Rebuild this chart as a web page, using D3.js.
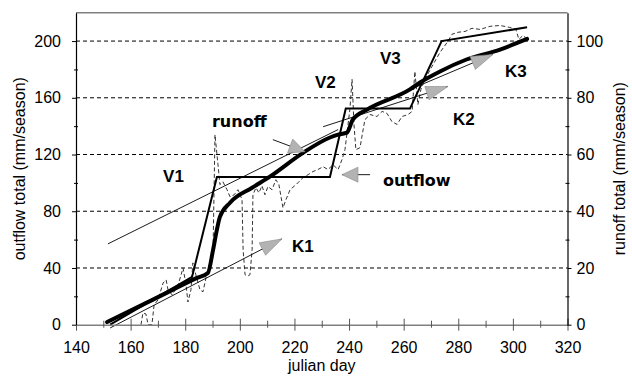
<!DOCTYPE html>
<html>
<head>
<meta charset="utf-8">
<script src="https://cdn.jsdelivr.net/npm/d3@7"></script>
<style>
  html, body { margin: 0; padding: 0; background: #fff; }
  svg { display: block; }
  text { font-family: "Liberation Sans", Arial, sans-serif; fill: #000; }
</style>
</head>
<body>
<svg id="chart" width="632" height="378"></svg>
<script>
// Cumulative outflow (mm/season, left axis) by julian day
const outflowDays   = [151.4, 168, 184.3, 188.3, 190.2, 191.6, 192.7, 196.4, 204.5, 211, 223, 233, 236, 239.2, 241.4, 246.6, 262.3, 266, 273.3, 283, 295.3, 305.2];
const outflowTotals = [1.9, 17.5, 33, 36.5, 52.8, 67, 76, 86, 96.6, 104.4, 121, 132, 134, 135.4, 144.7, 151.7, 165.9, 170.8, 178.6, 187, 194, 201.5];

// Cumulative runoff (mm/season, right axis) by julian day
const runoffDays = [163.8, 164.5, 165.6, 166.4, 167.8, 168.6, 170.0, 171.9, 173.0, 173.7, 175.2, 177.4, 179.2, 180.3, 181.0, 182.1, 182.8, 183.9, 185.4, 186.5, 187.6, 189.1, 190.2, 190.9, 192.0, 192.7, 193.8, 195.3, 196.4, 197.9, 199.3, 200.1, 200.8, 201.2, 201.9, 203.0, 203.7, 204.5, 204.8, 205.9, 207.0, 208.1, 209.2, 210.3, 211.8, 213.2, 214.3, 215.8, 216.9, 218.4, 220.6, 223.1, 225.0, 226.8, 228.6, 230.5, 232.3, 234.1, 236.0, 237.4, 238.5, 240.3, 241.1, 241.8, 242.5, 244.0, 245.8, 247.7, 250.2, 252.1, 253.9, 255.7, 257.6, 259.4, 261.6, 263.1, 264.1, 265.2, 266.3, 267.8, 270.4, 273.3, 275.9, 277.7, 279.9, 282.5, 285.0, 288.0, 291.6, 295.3, 298.9, 301.1, 302.2, 303.7, 305.2];
const runoffTotals = [0, 4.1, 3.8, 0, 0, 7.0, 8.7, 14.7, 15.8, 12.3, 10.5, 14.0, 20.0, 14.0, 8.0, 12.3, 21.8, 17.6, 12.3, 11.6, 16.5, 22.2, 26.4, 67.0, 56.4, 49.4, 50.4, 47.6, 45.1, 45.8, 47.6, 45.8, 44.1, 26.4, 17.6, 17.2, 17.6, 26.4, 45.8, 48.3, 46.5, 49.0, 45.8, 48.7, 47.6, 51.1, 49.4, 41.2, 44.1, 47.6, 49.4, 51.8, 52.9, 54.0, 54.7, 55.7, 54.7, 56.4, 54.7, 58.2, 61.7, 75.9, 86.5, 70.6, 61.7, 62.4, 72.3, 74.1, 73.4, 75.2, 74.5, 71.6, 70.6, 73.4, 74.1, 75.2, 89.3, 77.6, 82.9, 86.5, 91.1, 96.0, 99.5, 102.4, 103.1, 103.4, 104.5, 104.1, 105.2, 105.5, 104.8, 104.1, 100.6, 102.0, 100.6];

// Piecewise outflow model with storage steps V1, V2, V3 (left axis)
const stepDays   = [152.5, 182.5, 191.6, 233, 238.8, 262.3, 273.9, 305.2];
const stepTotals = [0, 33.7, 104.2, 104.2, 152.4, 152.4, 200, 209.7];

// Straight trend lines (left axis): start day/value, end day/value
const trendNames     = ["K1", "", "K2", "K3"];
const trendStartDays = [152.5, 151.7, 230.5, 260.5];
const trendStartVals = [-2.3, 57, 139.6, 164.4];
const trendEndDays   = [215.4, 236, 276.2, 292.7];
const trendEndVals   = [60.5, 137.6, 168, 190.6];

// Axis ticks
const xTicks     = d3.range(140, 321, 10);
const leftTicks  = d3.range(0, 201, 20);
const rightTicks = d3.range(0, 101, 10);
const gridValues = [40, 80, 120, 160, 200];

const svg = d3.select("#chart");

const x  = d3.scaleLinear().domain([140, 320]).range([76, 567.5]);
const yL = d3.scaleLinear().domain([0, 220]).range([324.7, 12.7]);
const yR = d3.scaleLinear().domain([0, 110]).range([324.7, 12.7]);

// dashed horizontal grid
svg.append("g").selectAll("line").data(gridValues).join("line")
  .attr("x1", x(140)).attr("x2", x(320))
  .attr("y1", d => yL(d)).attr("y2", d => yL(d))
  .attr("stroke", "#000").attr("stroke-width", 1)
  .attr("stroke-dasharray", "4,3");

// top border
svg.append("line")
  .attr("x1", x(140)).attr("x2", x(320))
  .attr("y1", yL(220)).attr("y2", yL(220))
  .attr("stroke", "#808080").attr("stroke-width", 1.5);

const plot = svg.append("g");

// runoff, dashed thin
const runoffLine = d3.line().x(d => x(d[0])).y(d => yR(d[1]));
plot.append("path")
  .datum(d3.zip(runoffDays, runoffTotals))
  .attr("d", runoffLine)
  .attr("fill", "none").attr("stroke", "#333").attr("stroke-width", 1)
  .attr("stroke-dasharray", "4,2.5");

// step model
const leftLine = d3.line().x(d => x(d[0])).y(d => yL(d[1]));
plot.append("path")
  .datum(d3.zip(stepDays, stepTotals))
  .attr("d", leftLine)
  .attr("fill", "none").attr("stroke", "#000").attr("stroke-width", 2);

// trend lines
const trends = trendNames.map((n, i) => ({
  name: n,
  x1: x(trendStartDays[i]), y1: yL(trendStartVals[i]),
  x2: x(trendEndDays[i]),   y2: yL(trendEndVals[i])
}));
plot.append("g").selectAll("line").data(trends).join("line")
  .attr("x1", d => d.x1).attr("y1", d => d.y1)
  .attr("x2", d => d.x2).attr("y2", d => d.y2)
  .attr("stroke", "#000").attr("stroke-width", 0.9);

// cumulative outflow, thick
plot.append("path")
  .datum(d3.zip(outflowDays, outflowTotals))
  .attr("d", leftLine.curve(d3.curveMonotoneX))
  .attr("fill", "none").attr("stroke", "#000").attr("stroke-width", 4)
  .attr("stroke-linejoin", "round").attr("stroke-linecap", "round");

// triangular arrow head pointing from (fx,fy) to (tx,ty)
function arrowHead(fx, fy, tx, ty, len, half) {
  const dx = tx - fx, dy = ty - fy, L = Math.hypot(dx, dy);
  const ux = dx / L, uy = dy / L;
  const bx = tx - ux * len, by = ty - uy * len;
  return [[tx, ty], [bx - uy * half, by + ux * half], [bx + uy * half, by - ux * half]];
}
const heads = [];
trends.forEach(t => { if (t.name) heads.push(arrowHead(t.x1, t.y1, t.x2, t.y2, 22, 7)); });

// leader arrows for the runoff / outflow labels
const leaders = [
  { from: [212.1, 130.5], to: [223.9, 122] },
  { from: [247.7, 105.8], to: [237.4, 105.8] }
];
leaders.forEach(l => {
  const fx = x(l.from[0]), fy = yL(l.from[1]), tx = x(l.to[0]), ty = yL(l.to[1]);
  plot.append("line").attr("x1", fx).attr("y1", fy).attr("x2", tx).attr("y2", ty)
    .attr("stroke", "#000").attr("stroke-width", 0.9);
  heads.push(arrowHead(fx, fy, tx, ty, 16, 7.5));
});

plot.append("g").selectAll("path").data(heads).join("path")
  .attr("d", d => "M" + d.map(p => p.join(",")).join("L") + "Z")
  .attr("fill", "#b3b3b3").attr("stroke", "#888").attr("stroke-width", 0.6);

// annotations
const labels = [
  { t: "runoff",  d: 189.8, v: 139.7, f: "DejaVu Sans", s: 16 },
  { t: "outflow", d: 252.4, v: 98,    f: "DejaVu Sans", s: 16 },
  { t: "V1", d: 171.9, v: 100.8, f: "Liberation Sans", s: 17 },
  { t: "V2", d: 227.5, v: 166.6, f: "Liberation Sans", s: 17 },
  { t: "V3", d: 251.3, v: 183.5, f: "Liberation Sans", s: 17 },
  { t: "K1", d: 219.1, v: 51.4,  f: "Liberation Sans", s: 17 },
  { t: "K2", d: 278.1, v: 141.1, f: "Liberation Sans", s: 17 },
  { t: "K3", d: 297.1, v: 175,   f: "Liberation Sans", s: 17 }
];
svg.append("g").selectAll("text").data(labels).join("text")
  .attr("x", d => x(d.d)).attr("y", d => yL(d.v))
  .style("font-family", d => `"${d.f}", sans-serif`)
  .style("font-size", d => d.s + "px").style("font-weight", "bold")
  .text(d => d.t);

// axes
function styleTicks(g) {
  g.selectAll("text").style("font-family", '"Liberation Sans", Arial, sans-serif')
    .style("font-size", "16px").attr("fill", "#000");
}

const gx = svg.append("g").attr("transform", `translate(0,${yL(0)})`)
  .call(d3.axisBottom(x).tickValues(xTicks).tickSize(0).tickPadding(17)
    .tickFormat(d => d % 20 === 0 ? d : ""));
gx.select(".domain").attr("stroke", "#808080").attr("stroke-width", 1.5);
gx.selectAll(".tick line")
  .attr("y1", d => d % 20 === 0 ? -6 : -4)
  .attr("y2", d => d % 20 === 0 ? 6 : 3)
  .attr("stroke", "#555");
styleTicks(gx);

const gl = svg.append("g").attr("transform", `translate(${x(140)},0)`)
  .call(d3.axisLeft(yL).tickValues(leftTicks).tickSize(0).tickPadding(15)
    .tickFormat(d => d % 40 === 0 ? d : ""));
gl.select(".domain").attr("stroke", "#000").attr("stroke-width", 1.2);
gl.selectAll(".tick line")
  .attr("x1", d => d % 40 === 0 ? -4 : -2)
  .attr("x2", d => d % 40 === 0 ? 0 : 2)
  .attr("stroke", "#000");
styleTicks(gl);

const gr = svg.append("g").attr("transform", `translate(${x(320)},0)`)
  .call(d3.axisRight(yR).tickValues(rightTicks).tickSize(0).tickPadding(9)
    .tickFormat(d => d % 20 === 0 ? d : ""));
gr.select(".domain").attr("stroke", "#000").attr("stroke-width", 1.2);
gr.selectAll(".tick line")
  .attr("x1", d => d % 20 === 0 ? 0 : -2)
  .attr("x2", d => d % 20 === 0 ? 4 : 2)
  .attr("stroke", "#000");
styleTicks(gr);

// axis titles
svg.append("text")
  .attr("transform", `translate(25,${(yL(0) + yL(220)) / 2}) rotate(-90)`)
  .attr("text-anchor", "middle").style("font-size", "16px")
  .text("outflow total (mm/season)");
svg.append("text")
  .attr("transform", `translate(625,${(yL(0) + yL(220)) / 2}) rotate(-90)`)
  .attr("text-anchor", "middle").style("font-size", "16px")
  .text("runoff total (mm/season)");
svg.append("text")
  .attr("x", (x(140) + x(320)) / 2).attr("y", 371)
  .attr("text-anchor", "middle").style("font-size", "16px")
  .text("julian day");
</script>
</body>
</html>
